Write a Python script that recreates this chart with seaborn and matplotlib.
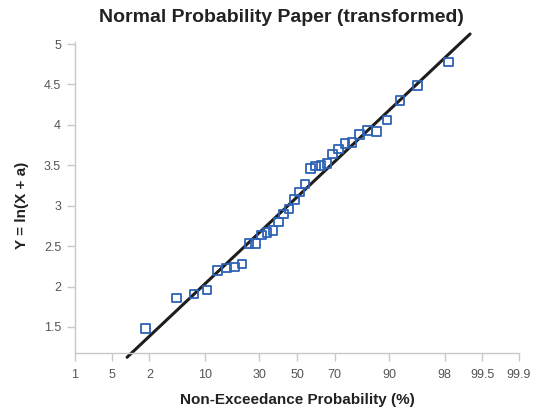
import numpy as np
import pandas as pd
import matplotlib
matplotlib.use("Agg")
import matplotlib.pyplot as plt
import seaborn as sns
from statistics import NormalDist

# Non-exceedance probability (%) of each ranked observation
prob_pct = [1.75, 4.68, 7.60, 10.53, 13.45, 16.37, 19.30, 22.22, 25.15, 28.07,
            30.99, 33.92, 36.84, 39.77, 42.69, 45.61, 48.54, 51.46, 54.39, 57.31,
            60.23, 63.16, 66.08, 69.01, 71.93, 74.85, 77.78, 80.70, 83.63, 86.55,
            89.47, 92.40, 95.32, 98.25]
# Transformed values Y = ln(X + a)
y_vals = [1.48, 1.86, 1.91, 1.96, 2.20, 2.23, 2.24, 2.28, 2.53, 2.53,
          2.64, 2.67, 2.69, 2.80, 2.90, 2.96, 3.08, 3.17, 3.27, 3.46,
          3.49, 3.50, 3.52, 3.64, 3.70, 3.77, 3.78, 3.88, 3.93, 3.92,
          4.06, 4.30, 4.49, 4.78]

tick_probs = [0.1, 0.5, 2, 10, 30, 50, 70, 90, 98, 99.5, 99.9]
tick_labels = ["1", "5", "2", "10", "30", "50", "70", "90", "98", "99.5", "99.9"]
y_ticks = [1.5, 2, 2.5, 3, 3.5, 4, 4.5, 5]
y_tick_labels = ["1.5", "2", "2.5", "3", "3.5", "4", "4.5", "5"]
line_prob = [0.9, 99.2]

nd = NormalDist()


def zval(p):
    return nd.inv_cdf(p / 100.0)


sns.set_theme(style="white")
plt.rcParams['font.family'] = ['Liberation Sans', 'DejaVu Sans']

W, H = 540, 412
fig = plt.figure(figsize=(W / 100, H / 100), dpi=100)
ax = fig.add_axes([75 / W, 1 - 352.7 / H, 444 / W, (352.7 - 42) / H])

df = pd.DataFrame({"z": [zval(p) for p in prob_pct], "y": y_vals})
slope, intercept = np.polyfit(df["z"], df["y"], 1)
line_df = pd.DataFrame({"z": [zval(p) for p in line_prob]})
line_df["y"] = intercept + slope * line_df["z"]

sns.lineplot(data=line_df, x="z", y="y", color="#1e1e1e", linewidth=2.2,
             ax=ax, clip_on=False, zorder=2)
sns.scatterplot(data=df, x="z", y="y", marker="s", s=38, facecolor="none",
                edgecolor="#2d62b5", linewidth=1.3, ax=ax, zorder=3)

ax.set_xlim(zval(0.1), zval(99.9))
ax.set_ylim(1.182, 5.025)
ax.set_xticks([zval(p) for p in tick_probs])
ax.set_xticklabels(tick_labels)
ax.set_yticks(y_ticks)
ax.set_yticklabels(y_tick_labels)
ax.set_xlabel("")
ax.set_ylabel("")

for s in ["top", "right"]:
    ax.spines[s].set_visible(False)
for s in ["left", "bottom"]:
    ax.spines[s].set_color("#c8c8c8")
    ax.spines[s].set_linewidth(1.0)

ax.tick_params(axis="both", direction="out", length=6, width=1.0,
               color="#c8c8c8", labelcolor="#555555", labelsize=9,
               bottom=True, left=True)
ax.tick_params(axis="x", pad=6)
ax.tick_params(axis="y", pad=4)
ax.grid(False)

fig.text(281 / W, 1 - 18 / H, "Normal Probability Paper (transformed)",
         ha="center", va="center", fontsize=14, fontweight="bold", color="#222222")
fig.text(297 / W, 1 - 400 / H, "Non-Exceedance Probability (%)",
         ha="center", va="center", fontsize=11, fontweight="bold", color="#222222")
fig.text(22 / W, 1 - 205 / H, "Y = ln(X + a)", rotation=90,
         ha="center", va="center", fontsize=11, fontweight="bold", color="#222222")

fig.savefig("out.png", dpi=100)
